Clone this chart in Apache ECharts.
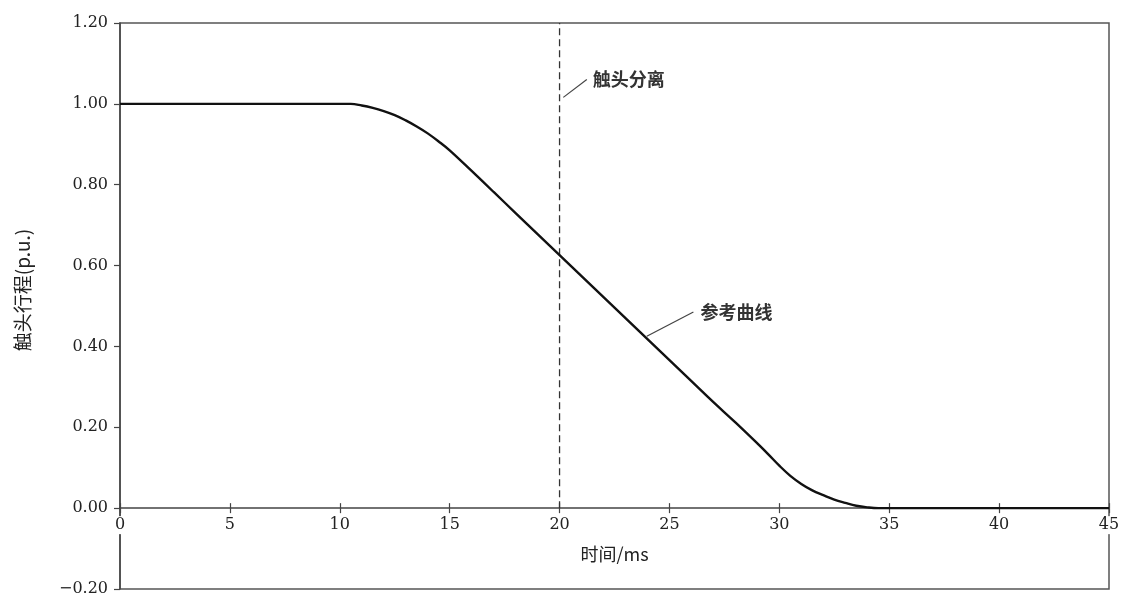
<!DOCTYPE html>
<html>
<head>
<meta charset="utf-8">
<script src="https://cdn.jsdelivr.net/npm/echarts@6/dist/echarts.min.js"></script>
<style>html,body{margin:0;padding:0;background:#fff;}#main{width:1122px;height:594px;}</style>
</head>
<body>
<div id="main"></div>
<script>
// ---- data ----
const timeMs = [0, 10, 10.5, 11, 11.5, 12, 12.5, 13, 13.5, 14, 14.5, 15, 16, 17, 18, 19, 20, 21, 22, 23, 24, 25, 26, 27, 28, 29, 29.5, 30, 30.5, 31, 31.5, 32, 32.5, 33, 33.5, 34, 34.5, 45];
const travel = [1, 1, 1.0, 0.996, 0.99, 0.982, 0.972, 0.959, 0.944, 0.927, 0.907, 0.885, 0.834, 0.782, 0.730, 0.678, 0.626, 0.574, 0.522, 0.470, 0.418, 0.366, 0.314, 0.262, 0.212, 0.16, 0.133, 0.105, 0.08, 0.06, 0.044, 0.032, 0.021, 0.013, 0.006, 0.002, 0, 0];
const separationX = [20, 20];
const separationY = [0, 1.2];
const sepLeaderX = [20.17, 21.24];
const sepLeaderY = [1.016, 1.06];
const refLeaderX = [23.97, 26.09];
const refLeaderY = [0.425, 0.485];
const sepLabel = '触头分离';
const refLabel = '参考曲线';
const xName = '时间/ms';
const yName = '触头行程(p.u.)';
const yMin = -0.2, yMax = 1.2, yStep = 0.2;
const xMin = 0, xMax = 45, xStep = 5;

const zip = (a, b) => a.map((v, i) => [v, b[i]]);

const axisColor = '#444';
const numFont = 'DejaVu Serif';
const cjkFont = 'Noto Sans CJK SC';

const W = 1122, H = 594;
const gridTop = 23, gridBottom = 5, gridLeft = 120, gridRight = 13;
const plotH = H - gridTop - gridBottom;
// shift x axis from grid bottom up to the y = 0 level
const zeroOffset = -plotH * (0 - yMin) / (yMax - yMin);

const chart = echarts.init(document.getElementById('main'));
chart.setOption({
  animation: false,
  backgroundColor: '#fff',
  grid: { left: gridLeft, right: gridRight, top: gridTop, bottom: gridBottom, outerBoundsMode: 'none', containLabel: false,
          show: true, borderColor: '#555', borderWidth: 1.5, backgroundColor: 'transparent' },
  xAxis: [{
    type: 'value', min: xMin, max: xMax, interval: xStep, position: 'bottom', offset: zeroOffset,
    name: xName, nameLocation: 'middle', nameGap: 37,
    nameTextStyle: { fontFamily: cjkFont, fontSize: 18, color: '#222' },
    axisLine: { onZero: false, lineStyle: { color: axisColor, width: 1.5 } },
    axisTick: { show: true, inside: false, length: 5, lineStyle: { color: axisColor, width: 1.2 } },
    axisLabel: { margin: 8, fontFamily: numFont, fontSize: 16, color: '#222', backgroundColor: '#fff', padding: [1, 1, 1, 1] },
    splitLine: { show: false }
  }, {
    type: 'value', min: xMin, max: xMax, interval: xStep, position: 'bottom', offset: zeroOffset,
    axisLine: { show: false, onZero: false },
    axisTick: { show: true, inside: true, length: 5, lineStyle: { color: axisColor, width: 1.2 } },
    axisLabel: { show: false },
    splitLine: { show: false }
  }],
  yAxis: {
    type: 'value', min: yMin, max: yMax, interval: yStep,
    name: yName, nameLocation: 'middle', nameGap: 88, nameRotate: 90,
    nameTextStyle: { fontFamily: cjkFont, fontSize: 19, color: '#222', padding: [0, 0, 0, 32] },
    axisLine: { show: true, onZero: false, lineStyle: { color: axisColor, width: 1.5 } },
    axisTick: { show: true, inside: false, length: 6, lineStyle: { color: axisColor, width: 1.2 } },
    axisLabel: { margin: 12, fontFamily: numFont, fontSize: 16, color: '#222', formatter: v => v.toFixed(2).replace('-', '\u2212') },
    splitLine: { show: false }
  },
  series: [
    {
      type: 'line', name: 'curve', data: zip(timeMs, travel), smooth: 0.4, showSymbol: false,
      lineStyle: { color: '#111', width: 2.4 }, z: 5
    },
    {
      type: 'line', name: 'separation', data: zip(separationX, separationY), showSymbol: false,
      lineStyle: { color: '#333', width: 1.3, type: [7, 4] }, z: 4
    },
    {
      type: 'line', name: 'sepLeader', data: zip(sepLeaderX, sepLeaderY), showSymbol: false,
      lineStyle: { color: '#444', width: 1.2 },
      endLabel: { show: true, formatter: sepLabel, fontFamily: cjkFont, fontSize: 18, fontWeight: 'bold', color: '#333', distance: 6 }
    },
    {
      type: 'line', name: 'refLeader', data: zip(refLeaderX, refLeaderY), showSymbol: false,
      lineStyle: { color: '#444', width: 1.2 },
      endLabel: { show: true, formatter: refLabel, fontFamily: cjkFont, fontSize: 18, fontWeight: 'bold', color: '#333', distance: 7 }
    }
  ]
});
</script>
</body>
</html>
